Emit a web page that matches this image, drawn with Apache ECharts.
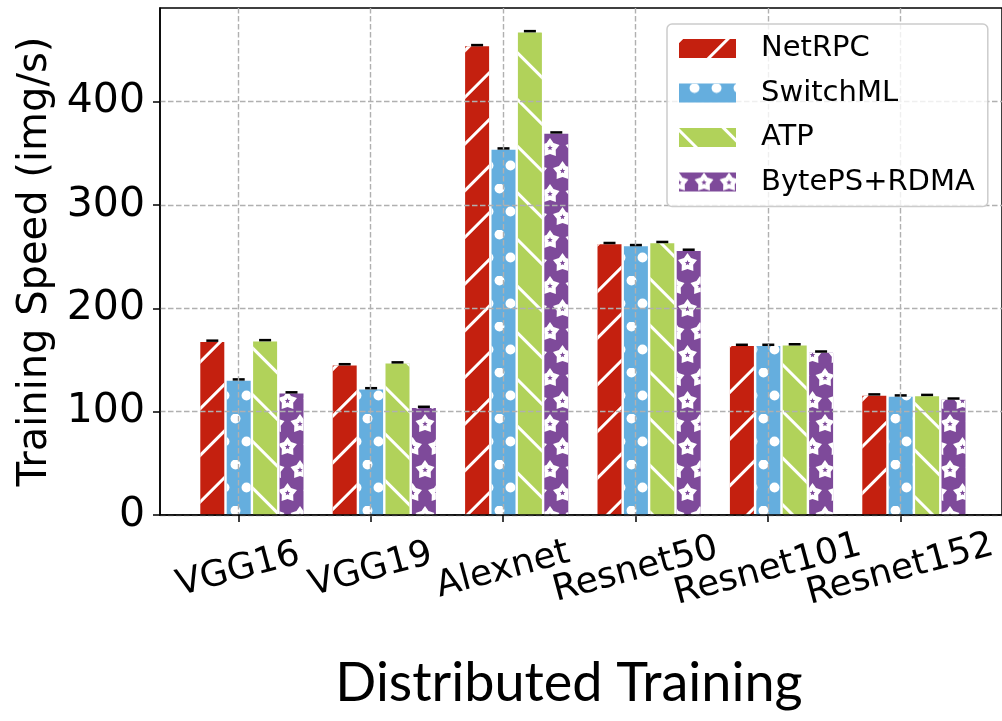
<!DOCTYPE html>
<html><head><meta charset="utf-8">
<script src="https://cdn.jsdelivr.net/npm/echarts@6/dist/echarts.min.js"></script>
<style>html,body{margin:0;padding:0;background:#fff}#c{width:1002px;height:721px}</style>
</head><body><div id="c"></div>
<script>
const categories = ['VGG16', 'VGG19', 'Alexnet', 'Resnet50', 'Resnet101', 'Resnet152'];
const seriesNames = ['NetRPC', 'SwitchML', 'ATP', 'BytePS+RDMA'];
const netrpc = [167.5, 144.7, 453.5, 262.0, 163.5, 115.5];
const switchml = [130.0, 121.5, 353.5, 260.0, 163.5, 114.5];
const atp = [168.0, 146.5, 467.0, 263.0, 164.0, 115.0];
const byteps = [117.5, 103.5, 369.0, 255.5, 157.0, 111.5];
const yTicks = [0, 100, 200, 300, 400];
const yMax = 490.6;
const xTitle = 'Distributed Training';
const yTitle = 'Training Speed (img/s)';

const FONT = 'DejaVu Sans';
const colors = ['#C4200F', '#65AEDE', '#B1D25A', '#7E4A9A'];

// ---- star pattern paths ----
function starPts(cx, cy, R, r) {
  const pts = [];
  for (let i = 0; i < 10; i++) {
    const a = -Math.PI / 2 + i * Math.PI / 5;
    const rad = i % 2 === 0 ? R : r;
    pts.push([cx + rad * Math.cos(a), cy + rad * Math.sin(a)]);
  }
  return pts;
}
function pathOf(list) {
  return 'M' + list.map(p => p[0].toFixed(2) + ' ' + p[1].toFixed(2)).join(' L') + ' Z ';
}
const SR = 10, Sr = 6.0, HR = 2.9, Hr = 1.3;
function fullStar(cx) {
  const o = starPts(cx, 0, SR, Sr), h = starPts(cx, 0, HR, Hr);
  return pathOf(o) + pathOf([h[0], h[9], h[8], h[7], h[6], h[5], h[4], h[3], h[2], h[1]]);
}
function rightHalf(cx) {
  const o = starPts(cx, 0, SR, Sr), h = starPts(cx, 0, HR, Hr);
  return pathOf([o[0], o[1], o[2], o[3], o[4], o[5]]) + pathOf([h[0], h[5], h[4], h[3], h[2], h[1]]);
}
function leftHalf(cx) {
  const o = starPts(cx, 0, SR, Sr), h = starPts(cx, 0, HR, Hr);
  return pathOf([o[5], o[6], o[7], o[8], o[9], o[0]]) + pathOf([h[5], h[0], h[9], h[8], h[7], h[6]]);
}
const starFull = 'path://' + fullStar(0);
const starSplit = 'path://' + rightHalf(0) + leftHalf(25);

const decals = [
  { symbol: 'rect', dashArrayX: [1, 0], dashArrayY: [3, 30], rotation: -Math.PI / 4, color: '#fff', symbolKeepAspect: false },
  { symbol: 'circle', dashArrayX: [[9, 13], [0, 11, 9, 2]], dashArrayY: [9, 14], color: '#fff', symbolSize: 1.1 },
  { symbol: 'rect', dashArrayX: [1, 0], dashArrayY: [3, 30], rotation: Math.PI / 4, color: '#fff', symbolKeepAspect: false },
  { symbol: [[starFull], [starSplit]], dashArrayX: [[0, 3, 19, 3], [25, 0]], dashArrayY: [18, 5], color: '#fff', symbolKeepAspect: false, symbolSize: 1 }
];
const values = [netrpc, switchml, atp, byteps];

const gridTop = 8, gridH = 507;
const chart = echarts.init(document.getElementById('c'), null, { renderer: 'canvas' });

const dash = { color: '#b0b0b0', width: 1.4, type: [5.5, 2.5] };

const option = {
  animation: false,
  backgroundColor: '#fff',
  grid: [
    { left: 160, top: gridTop, width: 843, height: gridH, show: true, borderColor: '#000', borderWidth: 1.5, backgroundColor: 'transparent', containLabel: false },
    { left: 185.7, top: gridTop, width: 794.4, height: gridH, containLabel: false },
    { left: 238.3, top: gridTop, width: 662, height: gridH, containLabel: false }
  ],
  xAxis: [
    { gridIndex: 0, type: 'category', data: categories, z: 10,
      axisLine: { show: true, lineStyle: { color: '#000', width: 1.5 } },
      axisTick: { show: false }, axisLabel: { show: false }, splitLine: { show: false } },
    { gridIndex: 1, type: 'category', data: categories, show: false },
    { gridIndex: 2, type: 'category', data: categories, boundaryGap: false, z: 5,
      axisLine: { show: false },
      axisTick: { show: true, interval: 0, length: 7, lineStyle: { color: '#000', width: 1.5 } },
      axisLabel: { show: true, interval: 0, rotate: 15, align: 'center', verticalAlign: 'middle', margin: 55,
        fontSize: 36, fontFamily: FONT, color: '#000' },
      splitLine: { show: true, interval: 0, lineStyle: dash } }
  ],
  yAxis: [
    { gridIndex: 0, type: 'value', min: 0, max: yMax, interval: 100, z: 10,
      name: yTitle, nameLocation: 'middle', nameGap: 100,
      nameTextStyle: { fontSize: 40, fontFamily: FONT, color: '#000' },
      axisLine: { show: true, lineStyle: { color: '#000', width: 1.5 } },
      axisTick: { show: true, length: 7, customValues: yTicks, lineStyle: { color: '#000', width: 1.5 } },
      axisLabel: { show: true, customValues: yTicks, margin: 15, fontSize: 41, fontFamily: FONT, color: '#000' },
      splitLine: { show: true, lineStyle: dash } },
    { gridIndex: 1, type: 'value', min: 0, max: yMax, show: false },
    { gridIndex: 2, type: 'value', min: 0, max: yMax, show: false }
  ],
  legend: {
    orient: 'vertical', left: 667, top: 24, padding: [10, 13, 10, 12], itemGap: 15.5,
    itemWidth: 57, itemHeight: 19, icon: 'rect', z: 20,
    textStyle: { fontSize: 29, fontFamily: FONT, color: '#000', padding: [0, 0, 0, 20] },
    backgroundColor: 'rgba(255,255,255,0.8)', borderColor: '#cccccc', borderWidth: 1.5, borderRadius: 5,
    data: seriesNames
  },
  graphic: [
    { type: 'text', x: 569, y: 684, style: { text: xTitle, fontSize: 54, fontFamily: 'Lato', fill: '#000', align: 'center', verticalAlign: 'middle' } }
  ],
  series: seriesNames.map((name, k) => ({
    name: name, type: 'bar', xAxisIndex: 1, yAxisIndex: 1,
    data: values[k], barWidth: 24, barGap: '10%',
    itemStyle: { color: colors[k], decal: decals[k] },
    emphasis: { disabled: true },
    label: { show: true, position: 'top', distance: 0, formatter: '{e| }',
      rich: { e: { width: 12, height: 2.5, lineHeight: 2.5, fontSize: 1, backgroundColor: '#000' } } }
  }))
};
chart.setOption(option);
</script>
</body></html>
